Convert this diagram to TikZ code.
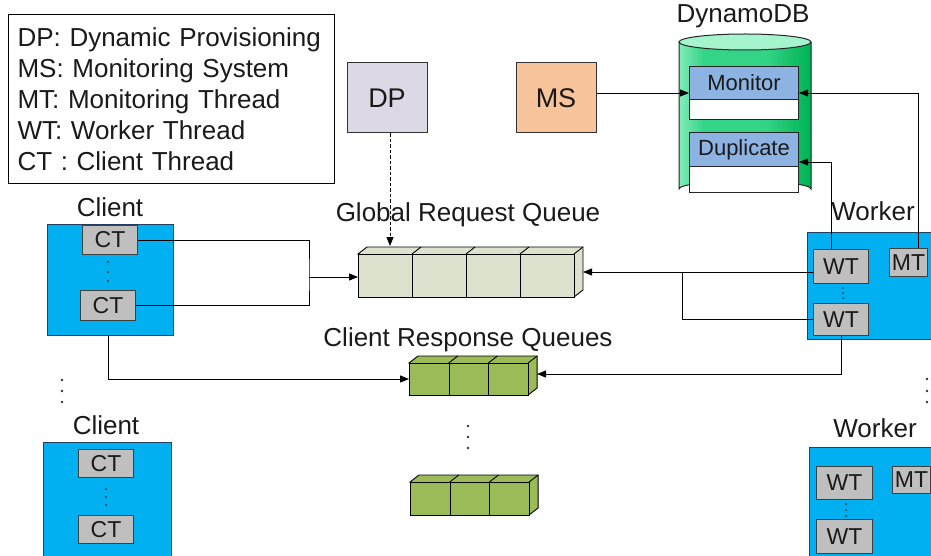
\documentclass[tikz,border=0pt]{standalone}
\usepackage{fontspec}
\setmainfont{Liberation Sans}
\usetikzlibrary{arrows.meta}
\definecolor{clientblue}{HTML}{00B0F0}
\definecolor{boxline}{HTML}{243F60}
\definecolor{thgrey}{HTML}{BFBFBF}
\definecolor{dpcol}{HTML}{DCD8E6}
\definecolor{mscol}{HTML}{F8C49C}
\definecolor{tabblue}{HTML}{8DB3E2}
\definecolor{grqcol}{HTML}{DDE2CE}
\definecolor{rqcol}{HTML}{9BBB59}
\definecolor{cylL}{HTML}{80ECB8}
\definecolor{cylM}{HTML}{34D486}
\definecolor{cylR}{HTML}{00B454}
\definecolor{cylTop}{HTML}{A6F4CE}
\definecolor{txt}{HTML}{1A1A1A}
\newcommand{\drawqueue}[7]{% name, x left, y top, cell width, height, n, fill
  \filldraw[fill=#7, draw=black, line width=0.9pt] (#2,#3) -- ++(9,-7) -- ({#2+#6*#4+9},{#3-7}) -- ({#2+#6*#4+9},{#3+#5-7}) -- ({#2+#6*#4},{#3+#5}) -- cycle;
  \foreach \i in {1,...,#6}{
    \node[qcell, fill=#7, minimum width=#4pt, minimum height=#5pt, anchor=north west] (#1\i) at ({#2+(\i-1)*#4},#3) {};
    \draw[line width=0.9pt] ({#2+\i*#4},#3) -- ++(9,-7);
  }
}
\begin{document}
\begin{tikzpicture}[x=1pt,y=-1pt,
  lbl/.style={font=\fontsize{26}{30}\selectfont, text=txt, inner sep=0pt},
  thread/.style={draw=black!75, fill=thgrey, font=\fontsize{23}{26}\selectfont, text=txt, inner sep=0pt, line width=1pt},
  hostbox/.style={draw=boxline, fill=clientblue, line width=1pt, inner sep=0pt},
  qcell/.style={draw=black, line width=0.9pt, inner sep=0pt},
  tab/.style={draw=black!85, line width=1pt, inner sep=0pt, font=\fontsize{22}{26}\selectfont, text=txt},
  arr/.style={-{Triangle[length=9pt,width=7pt]}, line width=0.8pt},
  ln/.style={line width=0.8pt},
  dot/.style={circle, fill=black!80, inner sep=0pt, minimum size=2.6pt}]
\useasboundingbox (0,0) rectangle (931,556);

% legend
\node[draw=black, line width=1pt, anchor=north west, minimum width=326pt, minimum height=169pt,
      text width=308pt, inner xsep=9pt, inner ysep=0pt, align=left,
      font=\fontsize{26}{31}\selectfont, text=txt] (legend) at (8,14)
  {DP: Dynamic Provisioning\\MS: Monitoring System\\MT: Monitoring Thread\\WT: Worker Thread\\CT : Client Thread\\[-4pt]};

% DP and MS
\node[draw=black!80, fill=dpcol, line width=1pt, minimum width=80pt, minimum height=70pt, inner sep=0pt,
      font=\fontsize{27}{30}\selectfont, text=txt] (dp) at (387,98) {DP};
\node[draw=black!80, fill=mscol, line width=1pt, minimum width=80pt, minimum height=70pt, inner sep=0pt,
      font=\fontsize{27}{30}\selectfont, text=txt] (ms) at (556,98) {MS};

% DynamoDB cylinder
\node[lbl] (dblabel) at (743,16) {DynamoDB};
\begin{scope}
  \clip (679,42) -- (679,189) arc[start angle=180, end angle=360, x radius=66, y radius=8] -- (811,42) -- cycle;
  \fill[cylM] (670,30) rectangle (820,205);
  \foreach \i in {0,...,12}{%
    \pgfmathtruncatemacro\pc{\i*100/12}%
    \fill[cylM!\pc!cylL] ({679+\i*2},30) rectangle ({681.6+\i*2},205);}
  \foreach \i in {0,...,22}{%
    \pgfmathtruncatemacro\pc{\i*100/22}%
    \fill[cylR!\pc!cylM] ({765+\i*2},30) rectangle ({767.6+\i*2},205);}
\end{scope}
\draw[line width=1pt, draw=black!85] (679,42) -- (679,189) arc[start angle=180, end angle=360, x radius=66, y radius=8] -- (811,42);
\filldraw[fill=cylTop, draw=black!85, line width=1pt] (745,42) ellipse[x radius=66, y radius=8];
\node[tab, fill=white, minimum width=109pt, minimum height=53pt, anchor=north west] (monbox) at (689,66) {};
\node[tab, fill=tabblue, minimum width=109pt, minimum height=33pt, anchor=north west] (mon) at (689,66) {Monitor};
\node[tab, fill=white, minimum width=109pt, minimum height=60pt, anchor=north west] (dupbox) at (689,132) {};
\node[tab, fill=tabblue, minimum width=109pt, minimum height=34pt, anchor=north west] (dup) at (689,132) {Duplicate};

% queues
\node[lbl] (grqlabel) at (468,215) {Global Request Queue};
\drawqueue{grq}{358}{254}{54}{43}{4}{grqcol}
\node[lbl] (rqlabel) at (468,340) {Client Response Queues};
\drawqueue{rqa}{409}{363}{39.7}{32}{3}{rqcol}
\drawqueue{rqb}{410}{482}{39.7}{33}{3}{rqcol}
\node[dot] (qd1) at (468,426) {};
\node[dot] (qd2) at (468,437) {};
\node[dot] (qd3) at (468,448) {};

% clients
\node[lbl] (cl1label) at (110,207) {Client};
\node[hostbox, minimum width=126pt, minimum height=111pt, anchor=north west] (client1) at (47,224) {};
\node[thread, minimum width=55pt, minimum height=29pt, anchor=north west] (ct1) at (82,225) {CT};
\node[thread, minimum width=55pt, minimum height=30pt, anchor=north west] (ct2) at (80,290) {CT};
\node[dot, minimum size=2.2pt] (c1d1) at (108,262) {};
\node[dot, minimum size=2.2pt] (c1d2) at (108,272) {};
\node[dot, minimum size=2.2pt] (c1d3) at (108,281) {};

\node[dot] (ld1) at (62,380) {};
\node[dot] (ld2) at (62,391) {};
\node[dot] (ld3) at (62,402) {};

\node[lbl] (cl2label) at (106,425) {Client};
\node[hostbox, minimum width=128pt, minimum height=120pt, anchor=north west] (client2) at (43,442) {};
\node[thread, minimum width=55pt, minimum height=28pt, anchor=north west] (ct3) at (78,449) {CT};
\node[thread, minimum width=55pt, minimum height=28pt, anchor=north west] (ct4) at (78,515) {CT};
\node[dot, minimum size=2.2pt] (c2d1) at (106,489) {};
\node[dot, minimum size=2.2pt] (c2d2) at (106,497) {};
\node[dot, minimum size=2.2pt] (c2d3) at (106,505) {};

% workers
\node[lbl] (w1label) at (873,211) {Worker};
\node[hostbox, minimum width=130pt, minimum height=107pt, anchor=north west] (worker1) at (807,232) {};
\node[thread, minimum width=55pt, minimum height=34pt, anchor=north west] (wt1) at (813,249) {WT};
\node[thread, minimum width=55pt, minimum height=32pt, anchor=north west] (wt2) at (813,303) {WT};
\node[thread, minimum width=38pt, minimum height=28pt, anchor=north west] (mt1) at (889,248) {MT};
\node[dot, minimum size=2pt] (w1d1) at (843,288) {};
\node[dot, minimum size=2pt] (w1d2) at (843,293) {};
\node[dot, minimum size=2pt] (w1d3) at (843,298) {};

\node[dot] (rd1) at (927,379) {};
\node[dot] (rd2) at (927,391) {};
\node[dot] (rd3) at (927,402) {};

\node[lbl] (w2label) at (875,428) {Worker};
\node[hostbox, minimum width=130pt, minimum height=115pt, anchor=north west] (worker2) at (809,447) {};
\node[thread, minimum width=56pt, minimum height=33pt, anchor=north west] (wt3) at (816,466) {WT};
\node[thread, minimum width=56pt, minimum height=34pt, anchor=north west] (wt4) at (816,519) {WT};
\node[thread, minimum width=38pt, minimum height=27pt, anchor=north west] (mt2) at (892,466) {MT};
\node[dot, minimum size=2pt] (w2d1) at (846,504) {};
\node[dot, minimum size=2pt] (w2d2) at (846,510) {};
\node[dot, minimum size=2pt] (w2d3) at (846,516) {};

% helper coordinates
\coordinate (cj) at (309,277);
\coordinate (wj) at (682,272);
\coordinate (grqR) at (583,272);
\coordinate (grqT) at (390,246);
\coordinate (msy) at (0,93);
\coordinate (dupy) at (0,162);
\coordinate (mtx) at (918,0);
\coordinate (dupx) at (831,0);
\coordinate (rqL) at (409,379);
\coordinate (rqR) at (537,374);

% connectors
\draw[ln] (ct1.east) -| (cj) |- (ct2.east);
\draw[arr] (cj) -- (cj -| grq1.west);
\draw[ln] (wt1.west |- wj) -- (wj);
\draw[arr] (wt2.west) -| (wj) -- (grqR);
\draw[arr, dash pattern=on 3.5pt off 2pt] (dp.south -| grqT) -- (grqT);
\draw[arr] (ct2.south |- client1.south) |- (rqL);
\draw[arr] (wt2.south) |- (rqR);
\draw[arr] (ms.east |- msy) -- (mon.west |- msy);
\draw[arr] (mtx |- mt1.north) |- (mon.east |- msy);
\draw[arr] (dupx |- wt1.north) |- (dup.east |- dupy);
\end{tikzpicture}
\end{document}
